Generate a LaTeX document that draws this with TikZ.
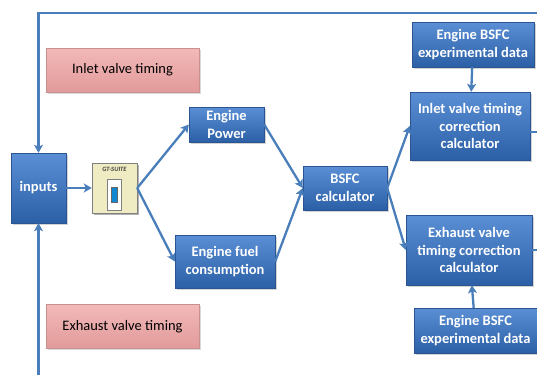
\documentclass[tikz,border=0pt]{standalone}
\usepackage{fontspec}
\setmainfont{Carlito}
\usetikzlibrary{arrows.meta,shadows}
\definecolor{boxtop}{HTML}{5A8FD5}
\definecolor{boxbot}{HTML}{2B5FA6}
\definecolor{boxedge}{HTML}{2A5592}
\definecolor{linkblue}{HTML}{4A7EBB}
\definecolor{tagtop}{HTML}{F2B9B9}
\definecolor{tagbot}{HTML}{E29A9A}
\definecolor{tagedge}{HTML}{C99090}
\definecolor{gtfill}{HTML}{EFEBC2}
\begin{document}
\begin{tikzpicture}[x=1pt,y=1pt,
    blk/.style = {draw=boxedge, top color=boxtop, bottom color=boxbot, text=white,
      font=\bfseries\fontsize{14.5}{17.5}\selectfont, align=center, inner sep=0pt,
      drop shadow={opacity=0.35,shadow xshift=1.5pt,shadow yshift=-1.5pt}},
    tag/.style = {draw=tagedge, top color=tagtop, bottom color=tagbot,
      font=\fontsize{14.5}{17}\selectfont, minimum width=153, minimum height=44,
      drop shadow={opacity=0.3,shadow xshift=1.5pt,shadow yshift=-1.5pt}},
    link/.style = {draw=linkblue, line width=2.3pt, -{Stealth[length=8pt,width=9pt,inset=2pt]}},
    wire/.style = {draw=linkblue, line width=2.3pt}
  ]
  \useasboundingbox (0,0) rectangle (537,-375);

  \node[blk, minimum width=55, minimum height=70] (inputs) at (38.5,-188) {inputs};
  \node[tag] (inlet) at (122.5,-70) {Inlet valve timing};
  \node[tag] (exhaust) at (122.5,-326.5) {Exhaust valve timing};
  \node[draw=gray, fill=gtfill, minimum width=45, minimum height=50,
    drop shadow={opacity=0.6,shadow xshift=2pt,shadow yshift=-2pt}] (gt) at (114.5,-188) {};
  \node[font=\bfseries\itshape\fontsize{6.5}{7}\selectfont, text=black!75] (gtname) at ([yshift=-6.5]gt.north) {GT-SUITE};
  \draw[draw=gray, fill=white] ([shift={(-7.5,9)}]gt.center) rectangle ([shift={(6.5,-22)}]gt.center);
  \draw[draw=gray!80!black, fill=cyan!70!blue] ([shift={(-3.5,1)}]gt.center) rectangle ([shift={(2.5,-14)}]gt.center);

  \node[blk, minimum width=75, minimum height=35] (power) at (226.5,-124.5) {Engine\\Power};
  \node[blk, minimum width=100, minimum height=53] (fuel) at (225,-261.5) {Engine fuel\\consumption};
  \node[blk, minimum width=84, minimum height=44] (bsfc) at (345,-188) {BSFC\\calculator};
  \node[blk, minimum width=122, minimum height=45] (datain) at (473,-44.5) {Engine BSFC\\experimental data};
  \node[blk, minimum width=120, minimum height=68] (corrin) at (470,-126) {Inlet valve timing\\correction\\calculator};
  \node[blk, minimum width=126, minimum height=70] (correx) at (469,-250) {Exhaust valve\\timing correction\\calculator};
  \node[blk, minimum width=123, minimum height=45] (dataex) at (475.5,-330.5) {Engine BSFC\\experimental data};

  \coordinate (topright) at (537,-13);
  \coordinate (topleft) at (38.5,-13);
  \coordinate (bottom) at (38.5,-375);
  \coordinate (outin) at (537,-132);
  \coordinate (outex) at (537,-250);

  % feedback loops
  \draw[link] (topright) -- (topleft) -- (inputs.north);
  \draw[link] (bottom) -- (inputs.south);
  \draw[wire] (corrin.east |- outin) -- (outin);
  \draw[wire] (correx.east |- outex) -- (outex);

  % main flow
  \draw[link] (inputs) -- (gt);
  \draw[link] (gt.east) -- (power.west);
  \draw[link] (gt.east) -- (fuel.west);
  \draw[link] (power.east) -- (bsfc.west);
  \draw[link] (fuel.east) -- (bsfc.west);
  \draw[link] (bsfc.east) -- (corrin.west);
  \draw[link] (bsfc.east) -- (correx.west);
  \draw[link] (datain) -- (corrin);
  \draw[link] (dataex) -- (correx);
\end{tikzpicture}
\end{document}
